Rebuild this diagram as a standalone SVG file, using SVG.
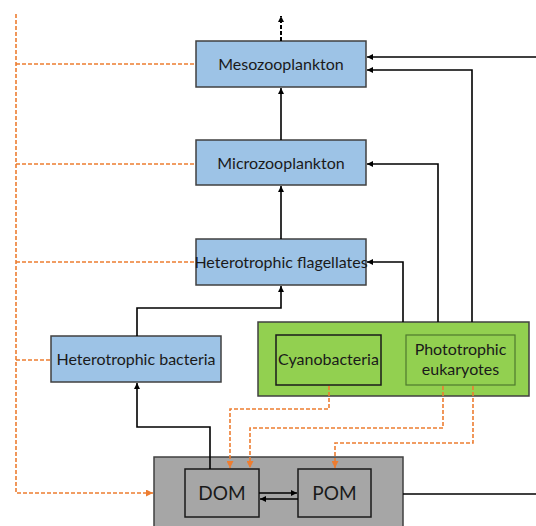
<svg xmlns="http://www.w3.org/2000/svg" width="536" height="526" viewBox="0 0 536 526">
<defs>
<marker id="ab" viewBox="0 0 10 10" refX="10" refY="5" markerWidth="6" markerHeight="6" markerUnits="userSpaceOnUse" orient="auto"><path d="M0,0 L10,5 L0,10 z" fill="#000"/></marker>
<marker id="ao" viewBox="0 0 10 10" refX="10" refY="5" markerWidth="7" markerHeight="7" markerUnits="userSpaceOnUse" orient="auto"><path d="M0,0 L10,5 L0,10 z" fill="#ED7D31"/></marker>
<style>
.blue{fill:#9DC3E6;stroke:#404040;stroke-width:1.5}
.t{font-family:Lato,"Liberation Sans",sans-serif;font-size:16px;fill:#1a1a1a;text-anchor:middle}
.big{font-size:19px}
.k{fill:none;stroke:#000;stroke-width:1.6}
.o{fill:none;stroke:#ED7D31;stroke-width:1.6;stroke-dasharray:4 2}
</style>
</defs>
<g id="mesozooplankton"><rect class="blue" x="196" y="41" width="170" height="46"/><text class="t" x="281" y="70">Mesozooplankton</text></g>
<g id="microzooplankton"><rect class="blue" x="196" y="140" width="170" height="45"/><text class="t" x="281" y="169">Microzooplankton</text></g>
<g id="heterotrophic-flagellates"><rect class="blue" x="196" y="239" width="170" height="46"/><text class="t" x="281" y="268">Heterotrophic flagellates</text></g>
<g id="heterotrophic-bacteria"><rect class="blue" x="51" y="336" width="170" height="46"/><text class="t" x="136" y="365">Heterotrophic bacteria</text></g>
<g id="phototrophs">
<rect x="258" y="322" width="271" height="74" fill="#92D050" stroke="#404040" stroke-width="1.5"/>
<g id="cyanobacteria"><rect x="276" y="335" width="105" height="50" fill="none" stroke="#1a1a1a" stroke-width="1.5"/><text class="t" x="328.5" y="365">Cyanobacteria</text></g>
<g id="phototrophic-eukaryotes"><rect x="406" y="335" width="109" height="50" fill="none" stroke="#4f7a2e" stroke-width="1.2"/><text class="t" x="460.5" y="355">Phototrophic</text><text class="t" x="460.5" y="375">eukaryotes</text></g>
</g>
<g id="detritus">
<rect x="154" y="457" width="249" height="80" fill="#A6A6A6" stroke="#404040" stroke-width="1.5"/>
<g id="dom"><rect x="185" y="469" width="74" height="48" fill="#A6A6A6" stroke="#1a1a1a" stroke-width="1.5"/><text class="t big" x="222" y="500">DOM</text></g>
<g id="pom"><rect x="298" y="469" width="73" height="48" fill="#A6A6A6" stroke="#1a1a1a" stroke-width="1.5"/><text class="t big" x="334.5" y="500">POM</text></g>
</g>
<g id="connectors">
<path class="o" d="M16,14 V493 H153" marker-end="url(#ao)"/>
<path class="o" d="M16,64 H196"/>
<path class="o" d="M16,164 H196"/>
<path class="o" d="M16,262 H196"/>
<path class="o" d="M16,360 H51"/>
<path class="o" d="M329,386 V409 H230 V468" marker-end="url(#ao)"/>
<path class="o" d="M443,386 V428 H250 V468" marker-end="url(#ao)"/>
<path class="o" d="M473,386 V443 H335 V468" marker-end="url(#ao)"/>
<path fill="none" stroke="#000" stroke-width="2" stroke-dasharray="4 2" d="M281,41 V16" marker-end="url(#ab)"/>
<path class="k" d="M281,140 V88" marker-end="url(#ab)"/>
<path class="k" d="M281,239 V186" marker-end="url(#ab)"/>
<path class="k" d="M137,336 V308 H281 V286" marker-end="url(#ab)"/>
<path class="k" d="M403,322 V262 H367" marker-end="url(#ab)"/>
<path class="k" d="M438,322 V164 H367" marker-end="url(#ab)"/>
<path class="k" d="M472,322 V70 H367" marker-end="url(#ab)"/>
<path class="k" d="M536,57 H367" marker-end="url(#ab)"/>
<path class="k" d="M210,469 V427 H137 V383" marker-end="url(#ab)"/>
<path class="k" d="M259,493 H297" marker-end="url(#ab)"/>
<path class="k" d="M298,499 H260" marker-end="url(#ab)"/>
<path class="k" d="M403,494 H536"/>
</g>
</svg>
